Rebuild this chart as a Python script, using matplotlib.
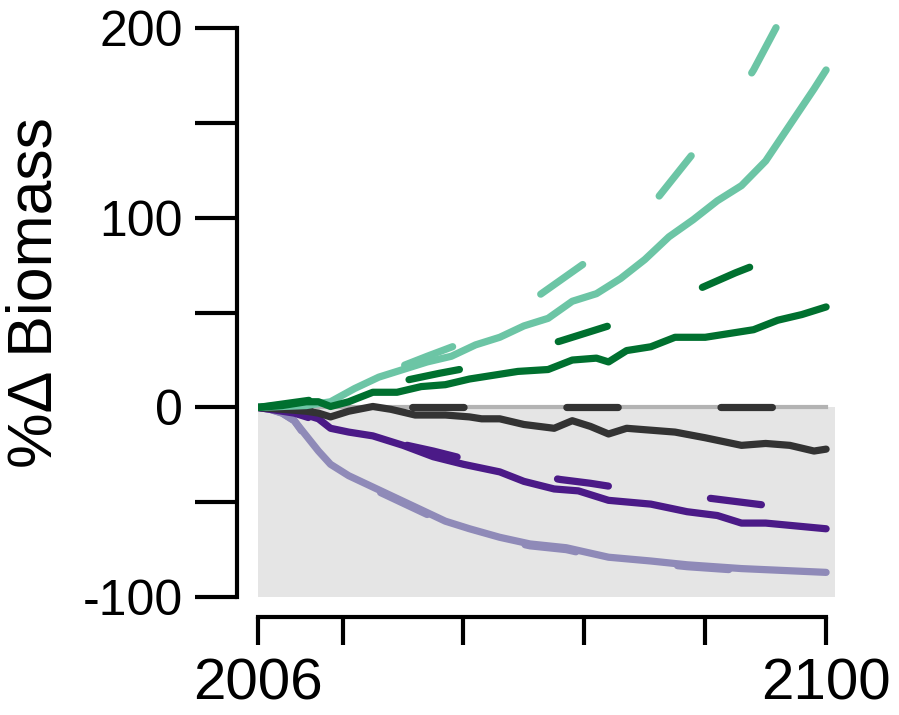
import matplotlib
matplotlib.use("Agg")
import matplotlib.pyplot as plt

plt.rcParams['font.family'] = ['Liberation Sans', 'DejaVu Sans']
plt.rcParams['lines.scale_dashes'] = False

# series (year, % change in biomass)
teal_x = [2006, 2010, 2014, 2018, 2022, 2026, 2030, 2034, 2038, 2042, 2046, 2050, 2054,
          2058, 2062, 2066, 2070, 2074, 2078, 2082, 2086, 2090, 2094, 2098, 2100]
teal_y = [0, 0.5, 1, 3, 10, 16, 20, 24, 27, 33, 37, 43, 47,
          56, 60, 68, 78, 90, 99, 109, 117, 130, 149, 168, 178]
teal_dash_x = [2006, 2015, 2022, 2030, 2034, 2039, 2046, 2052, 2056, 2060, 2066, 2072,
               2078, 2084, 2088, 2092, 2096, 2100]
teal_dash_y = [0, 3, 10, 22, 27, 33, 45, 58, 67, 76, 92, 110, 134, 158, 178, 202, 222, 240]

green_x = [2006, 2010, 2014, 2016, 2018, 2021, 2025, 2029, 2033, 2037, 2041, 2045, 2049,
           2054, 2058, 2062, 2064, 2067, 2071, 2075, 2080, 2084, 2088, 2092, 2096, 2100]
green_y = [0, 1, 3, 3, 0.5, 3, 8, 8, 11, 12, 15, 17, 19,
           20, 25, 26, 24, 30, 32, 37, 37, 39, 41, 46, 49, 53]
green_dash_x = [2006, 2015, 2022, 2030, 2036, 2041, 2048, 2056, 2061, 2065, 2070, 2075,
                2080, 2085, 2089, 2094, 2100]
green_dash_y = [0, 4, 6, 14, 18, 21, 28, 35, 40, 44, 51, 57, 64, 71, 76, 84, 92]

grey_x = [2006, 2010, 2014, 2016, 2018, 2021, 2025, 2028, 2032, 2037, 2041, 2043, 2046,
          2050, 2055, 2058, 2061, 2064, 2067, 2071, 2075, 2080, 2086, 2090, 2094, 2098, 2100]
grey_y = [0, -1, -2, -3, -5, -2, 0.5, -1, -4, -4, -5, -6, -6,
          -9, -11, -7, -10, -14, -11, -12, -13, -16, -20, -19, -20, -23, -22]
grey_dash_x = [2006, 2030, 2060, 2100]
grey_dash_y = [0, 0, 0, 0]

purple_x = [2006, 2010, 2013, 2016, 2018, 2021, 2025, 2030, 2035, 2040, 2046, 2050, 2055,
            2059, 2064, 2071, 2077, 2082, 2086, 2090, 2095, 2100]
purple_y = [0, -1, -3, -6, -11, -13, -15, -20, -26, -30, -34, -39, -43,
            -44, -49, -51, -55, -57, -61, -61, -62.5, -64]
purple_dash_x = [2006, 2012, 2018, 2025, 2030, 2035, 2040, 2046, 2051, 2056, 2061, 2065,
                 2070, 2075, 2081, 2086, 2091, 2096, 2100]
purple_dash_y = [0, -3, -9, -14, -19.5, -23, -27, -31, -35, -38, -40, -42,
                 -44, -46, -48, -50, -52, -54, -56]

lilac_x = [2006, 2008, 2010, 2012, 2014, 2016, 2018, 2021, 2025, 2029, 2033, 2037, 2041,
           2046, 2051, 2057, 2064, 2071, 2077, 2086, 2093, 2100]
lilac_y = [0, -1, -3, -7, -15, -23, -30, -36, -42, -48, -54, -60, -64,
           -68.5, -72, -74, -79, -81, -83, -85, -86, -87]
lilac_dash_y = [0, -1, -3, -7, -16, -24, -31, -37, -43, -49, -55, -61, -65,
                -69.5, -73, -75, -80, -82, -84, -86, -87, -88]

y_ticks = [-100, -50, 0, 50, 100, 150, 200]
y_ticklabels = ['-100', '', '0', '', '100', '', '200']
x_ticks = [2006, 2020, 2040, 2060, 2080, 2100]
x_ticklabels = ['2006', '', '', '', '', '2100']

fig = plt.figure(figsize=(8.99, 7.15), dpi=100)
ax = fig.add_axes([0.287, 0.165, 0.642, 0.822])

ax.fill_between([2006, 2101.5], -100, 0, color='#e5e5e5', lw=0, zorder=0)
ax.plot([2006, 2100], [0, 0], color='#b3b3b3', lw=3, zorder=1)

lw = 5.2
dash = (0, (37, 74))
series = [
    (lilac_x, lilac_y, lilac_dash_y, lilac_x, '#8f8ab8'),
    (purple_x, purple_y, purple_dash_y, purple_dash_x, '#4b1a87'),
    (grey_x, grey_y, grey_dash_y, grey_dash_x, '#333333'),
    (teal_x, teal_y, teal_dash_y, teal_dash_x, '#6cc5a5'),
    (green_x, green_y, green_dash_y, green_dash_x, '#00702f'),
]
for xs, ys, dys, dxs, col in series:
    ax.plot(xs, ys, color=col, lw=lw, solid_capstyle='round',
            solid_joinstyle='round', zorder=3)
    ax.plot(dxs, dys, color=col, lw=lw, linestyle=dash,
            dash_capstyle='round', zorder=3)

ax.set_xlim(2006, 2101.5)
ax.set_ylim(-100, 210)

for s in ['top', 'right']:
    ax.spines[s].set_visible(False)
ax.spines['left'].set_position(('outward', 15))
ax.spines['bottom'].set_position(('outward', 14.5))
ax.spines['left'].set_bounds(-100, 200)
ax.spines['bottom'].set_bounds(2006, 2100)
for s in ['left', 'bottom']:
    ax.spines[s].set_linewidth(3)

ax.set_yticks(y_ticks)
ax.set_yticklabels(y_ticklabels)
ax.set_xticks(x_ticks)
ax.set_xticklabels(x_ticklabels)
ax.tick_params(axis='y', length=30, width=3, pad=9, labelsize=36)
ax.tick_params(axis='x', length=20, width=3, pad=9, labelsize=42)

fig.text(35 / 899, 1 - 293 / 715, '%\u0394 Biomass', rotation=90,
         ha='center', va='center', fontsize=45)

fig.savefig('out.png', dpi=100)
